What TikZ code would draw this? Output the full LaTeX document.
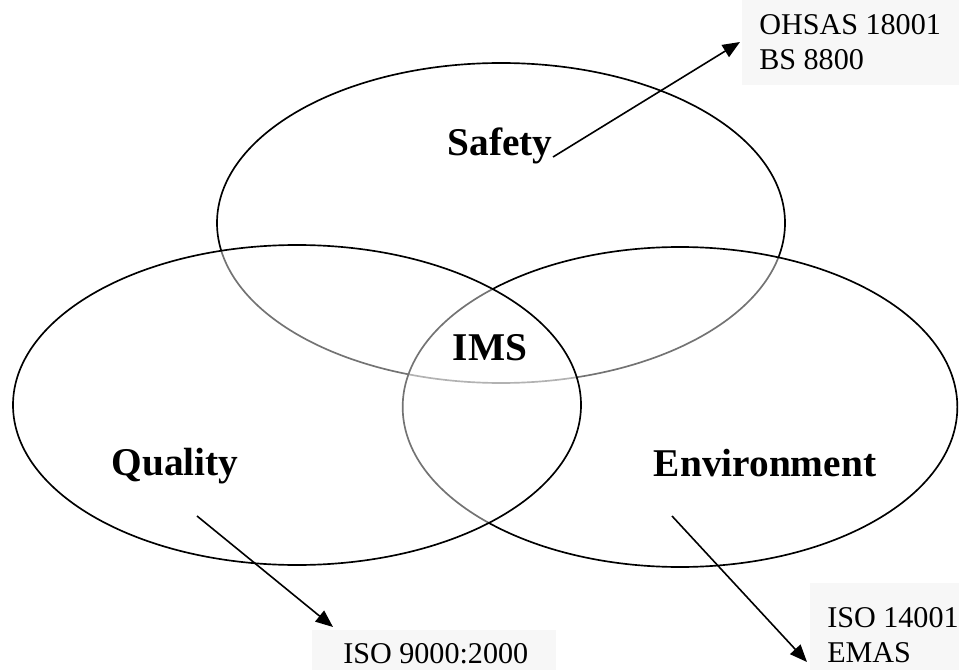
\documentclass[tikz,border=0pt]{standalone}
\usepackage{fontspec}
\setmainfont{Liberation Serif}
\usetikzlibrary{shapes.geometric,arrows.meta}
\begin{document}
\begin{tikzpicture}[x=0.75pt,y=-0.75pt,
  venn/.style={ellipse,draw=black,line width=1.25pt,fill=white,fill opacity=0.45,draw opacity=1,inner sep=0pt,minimum width=426pt,minimum height=240pt},
  biglabel/.style={inner sep=0pt,anchor=base,font=\fontsize{29.5pt}{35pt}\selectfont\bfseries},
  stdlabel/.style={inner sep=0pt,anchor=base west,align=left,font=\fontsize{22.6pt}{26.25pt}\selectfont},
  pointer/.style={line width=1.2pt,-{Triangle[length=13pt,width=10.5pt]}},
  labelbg/.style={fill=black!3,draw=none}]
\useasboundingbox (0,0) rectangle (959,670);
\fill[white] (0,0) rectangle (959,670);
% faint label backgrounds
\path[labelbg] (742,0) rectangle (959,85);
\path[labelbg] (810,583) rectangle (959,670);
\path[labelbg] (312,630) rectangle (556,670);
% ellipses
\node[venn] (safety) at (501,223) {};
\node[venn,minimum width=416pt] (env) at (680,407) {};
\node[venn] (quality) at (297,405) {};
% labels
\node[biglabel] (tsafety) at (500,156) {Safety};
\node[biglabel] (tims) at (490,360) {IMS};
\node[biglabel] (tquality) at (175,475) {Quality};
\node[biglabel] (tenv) at (765,476) {Environment};
\node[stdlabel] (ohsas) at (759,70) {OHSAS 18001\\BS 8800};
\node[stdlabel] (iso9000) at (343,663) {ISO 9000:2000};
\node[stdlabel] (iso14001) at (827,662) {ISO 14001\\EMAS};
% arrows
\coordinate (s1) at (553,157);
\coordinate (s2) at (740,42);
\coordinate (q1) at (197,516);
\coordinate (q2) at (333,627);
\coordinate (e1) at (672,516);
\coordinate (e2) at (807,662);
\draw[pointer] (s1) -- (s2);
\draw[pointer] (q1) -- (q2);
\draw[pointer] (e1) -- (e2);
\end{tikzpicture}
\end{document}
